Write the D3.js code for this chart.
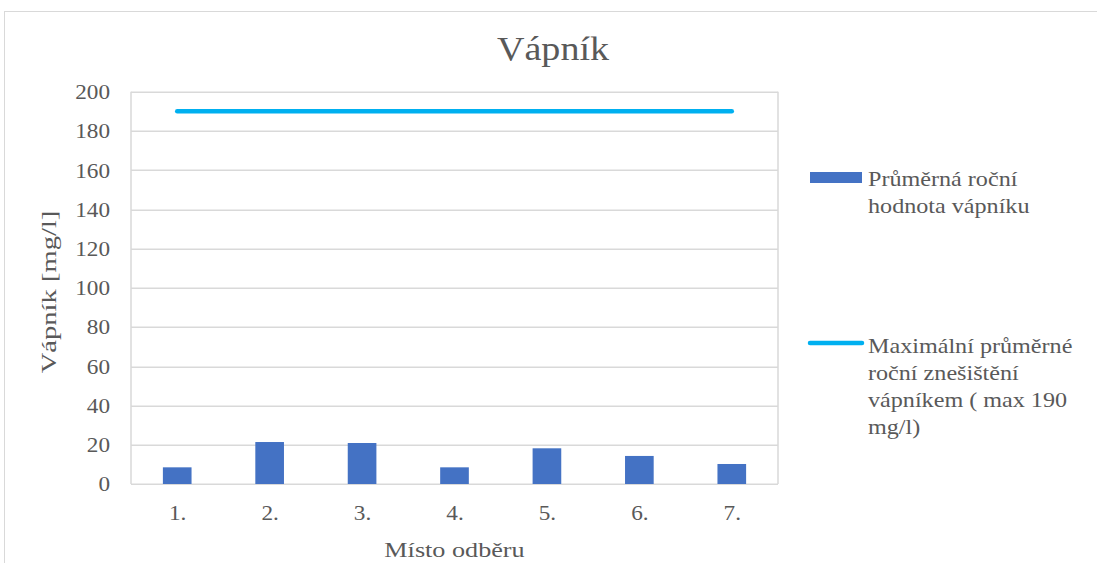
<!DOCTYPE html>
<html>
<head>
<meta charset="utf-8">
<script src="https://cdn.jsdelivr.net/npm/d3@7"></script>
<style>
  body { margin: 0; background: #fff; }
  text { font-family: "Liberation Serif", "Times New Roman", serif; fill: #595959; }
</style>
</head>
<body>
<div id="chart"></div>
<script>
// data
var categories = ["1.", "2.", "3.", "4.", "5.", "6.", "7."];
var averageValues = [8.5, 21.4, 20.9, 8.5, 18.2, 14.3, 10.2];
var limitValues = [190, 190, 190, 190, 190, 190, 190];
var yTicks = [0, 20, 40, 60, 80, 100, 120, 140, 160, 180, 200];
var legendLabels = [
  ["Průměrná roční", "hodnota vápníku"],
  ["Maximální průměrné", "roční znešištění", "vápníkem ( max 190", "mg/l)"]
];

var W = 1097, H = 563;
var margin = {top: 91.7, right: 319, bottom: 79, left: 131};
var width = W - margin.left - margin.right;
var height = H - margin.top - margin.bottom;

// the original text is drawn a bit wider than Liberation Serif
function stretch(sel, x, y, k) {
  sel.attr("transform", "translate(" + x + "," + y + ") scale(" + k + ",1)");
}

var svg = d3.select("#chart").append("svg")
    .attr("width", W)
    .attr("height", H);

// outer chart border
svg.append("rect")
    .attr("x", 4.5).attr("y", 11.5)
    .attr("width", W + 10).attr("height", H + 10)
    .attr("fill", "none").attr("stroke", "#d9d9d9");

svg.append("text")
    .attr("text-anchor", "middle")
    .style("font-size", "34px")
    .text("Vápník")
    .call(stretch, 553, 59.5, 1.12);

var g = svg.append("g")
    .attr("transform", "translate(" + margin.left + "," + margin.top + ")");

var x = d3.scaleBand().domain(categories).range([0, width]).paddingInner(0.69).paddingOuter(0.345);
var xc = d3.scalePoint().domain(categories).range([0, width]).padding(0.5);
var y = d3.scaleLinear().domain([0, 200]).range([height, 0]);

// gridlines
g.selectAll(".grid").data(yTicks).enter().append("line")
    .attr("x1", 0).attr("x2", width)
    .attr("y1", function(d) { return Math.round(y(d)) + 0.5; })
    .attr("y2", function(d) { return Math.round(y(d)) + 0.5; })
    .attr("stroke", "#d9d9d9").attr("stroke-width", 1.5);

// plot area sides
g.append("line").attr("x1", 0).attr("x2", 0).attr("y1", 0).attr("y2", height)
    .attr("stroke", "#d9d9d9").attr("stroke-width", 1.5);
g.append("line").attr("x1", width).attr("x2", width).attr("y1", 0).attr("y2", height)
    .attr("stroke", "#d9d9d9").attr("stroke-width", 1.5);

// y axis
var tickK = 1.08;
var yAxis = g.append("g").call(d3.axisLeft(y).tickValues(yTicks).tickSize(0).tickPadding(21 / tickK));
yAxis.select(".domain").remove();
yAxis.selectAll("text").style("font-size", "21.5px").attr("fill", "#595959")
    .style("font-family", "'Liberation Serif', serif")
    .attr("transform", "scale(" + tickK + ",1)");

// x axis
var xAxis = g.append("g").attr("transform", "translate(0," + height + ")")
    .call(d3.axisBottom(xc).tickSize(0).tickPadding(21));
xAxis.select(".domain").remove();
xAxis.selectAll("text").style("font-size", "21.5px").attr("fill", "#595959")
    .style("font-family", "'Liberation Serif', serif")
    .attr("transform", "scale(" + tickK + ",1)");

// bars
g.selectAll(".bar").data(averageValues).enter().append("rect")
    .attr("x", function(d, i) { return x(categories[i]); })
    .attr("y", function(d) { return y(d); })
    .attr("width", x.bandwidth())
    .attr("height", function(d) { return height - y(d); })
    .attr("fill", "#4472c4");

// limit line
var line = d3.line()
    .x(function(d, i) { return xc(categories[i]); })
    .y(function(d) { return y(d); });
g.append("path").datum(limitValues)
    .attr("d", line)
    .attr("fill", "none").attr("stroke", "#00b0f0")
    .attr("stroke-width", 4.5).attr("stroke-linecap", "round");

// axis titles
svg.append("text")
    .attr("text-anchor", "middle")
    .style("font-size", "22px")
    .text("Vápník [mg/l]")
    .attr("transform", "translate(56,292) rotate(-90) scale(1.3,1)");
svg.append("text")
    .attr("text-anchor", "middle")
    .style("font-size", "22px")
    .text("Místo odběru")
    .call(stretch, margin.left + width / 2, 557, 1.19);

// legend
var leg = svg.append("g");
leg.append("rect").attr("x", 810).attr("y", 172).attr("width", 52).attr("height", 11).attr("fill", "#4472c4");
leg.append("line").attr("x1", 810).attr("x2", 862).attr("y1", 343).attr("y2", 343)
    .attr("stroke", "#00b0f0").attr("stroke-width", 4.5).attr("stroke-linecap", "round");

var legTop = [186, 353];
legendLabels.forEach(function(lines, k) {
  lines.forEach(function(t, j) {
    leg.append("text")
        .style("font-size", "21px")
        .text(t)
        .call(stretch, 868, legTop[k] + j * 27, 1.15);
  });
});
</script>
</body>
</html>
